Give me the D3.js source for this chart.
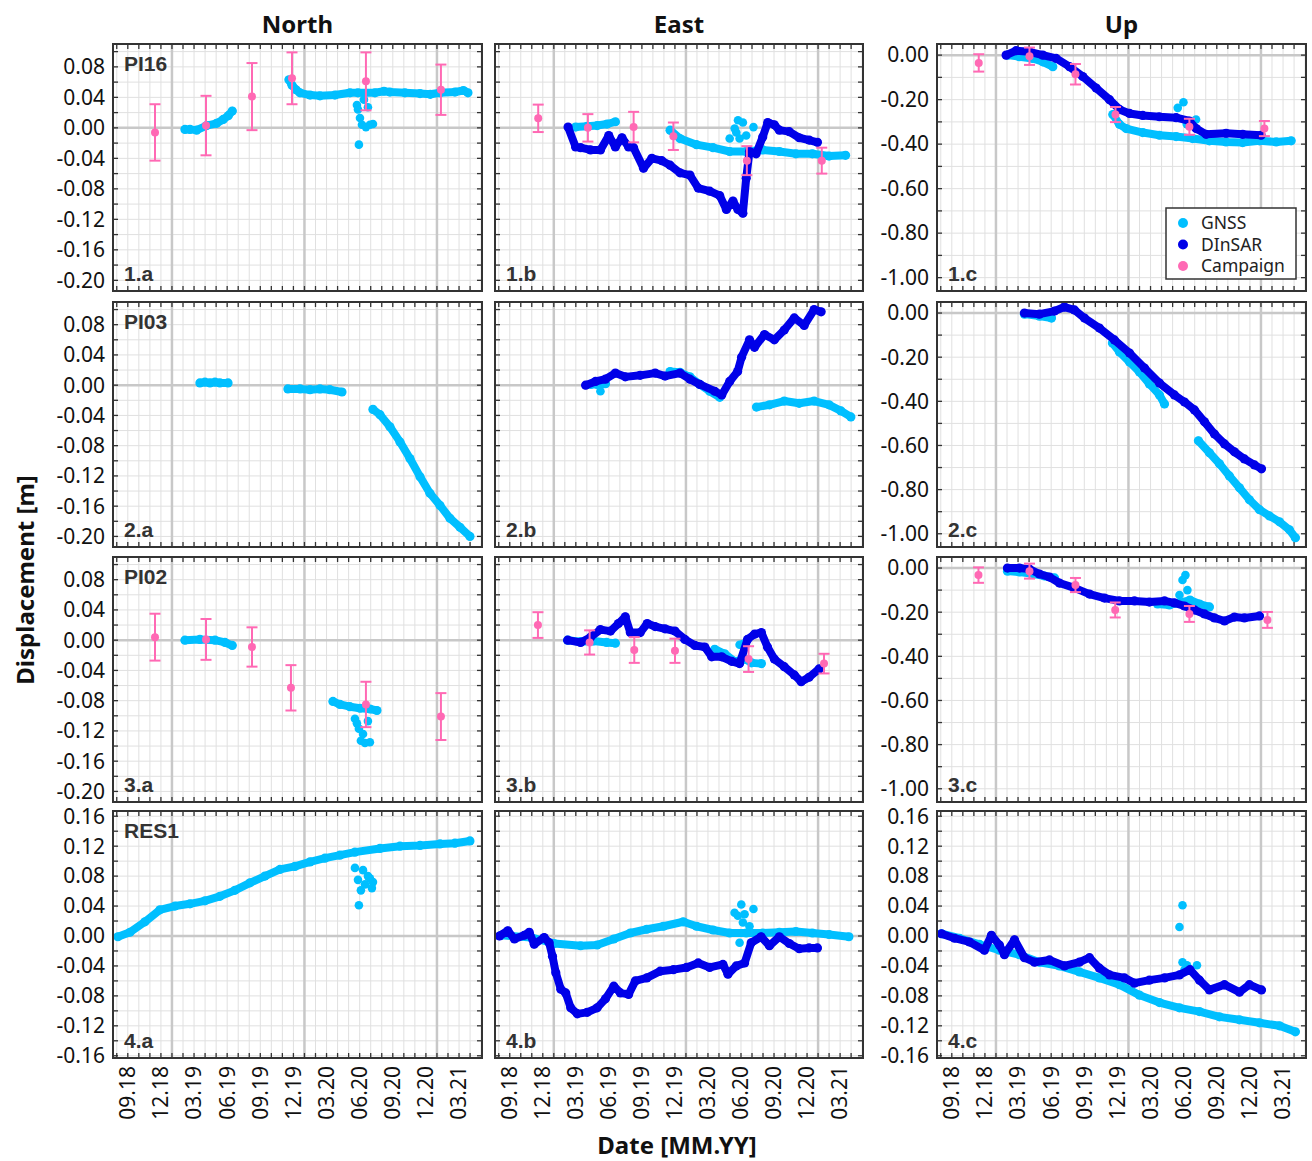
<!DOCTYPE html>
<html><head><meta charset="utf-8">
<script src="https://cdn.jsdelivr.net/npm/d3@7"></script>
<style>body{margin:0;background:#fff} svg{display:block}</style>
</head><body><svg id="c" width="1312" height="1161"></svg>
<script>
// ---------- labels ----------
const columnTitles = ["North", "East", "Up"];
const stations = ["PI16", "PI03", "PI02", "RES1"];
const xTickLabels = ["09.18","12.18","03.19","06.19","09.19","12.19","03.20","06.20","09.20","12.20","03.21"];
const yTicksNE = [0.08,0.04,0.00,-0.04,-0.08,-0.12,-0.16,-0.20];
const yTicksUp = [0.00,-0.20,-0.40,-0.60,-0.80,-1.00];
const yTicksR4 = [0.16,0.12,0.08,0.04,0.00,-0.04,-0.08,-0.12,-0.16];
const legendNames = ["GNSS","DInSAR","Campaign"];

// ---------- data: [decimal year, displacement m] ; campaign: [t, value, error] ----------
// Row 1 : PI16
const gnss1a = [
 [[2019.098,-0.002],[2019.136,-0.002],[2019.186,-0.003],[2019.262,0.003],[2019.337,0.006],[2019.387,0.011],[2019.425,0.016],[2019.455,0.022]],
 [[2019.883,0.063],[2019.906,0.056],[2019.936,0.050],[2019.966,0.046],[2020.042,0.043],[2020.117,0.042],[2020.230,0.043],[2020.343,0.046],[2020.404,0.046],[2020.532,0.046],[2020.600,0.048],[2020.645,0.047],[2020.758,0.046],[2020.872,0.045],[2020.950,0.044],[2021.023,0.046],[2021.136,0.047],[2021.200,0.049],[2021.234,0.046]]
];
const gnss1aOut = [[2020.396,0.030],[2020.404,0.024],[2020.411,-0.022],[2020.419,0.013],[2020.434,0.004],[2020.449,0.037],[2020.464,0.001],[2020.479,0.027],[2020.494,0.004],[2020.517,0.005]];
const camp1a = [[2018.872,-0.006,0.037],[2019.257,0.003,0.039],[2019.604,0.041,0.044],[2019.906,0.065,0.034],[2020.464,0.061,0.038],[2021.030,0.050,0.033]];

const gnss1b = [
 [[2019.165,0.001],[2019.253,0.002],[2019.328,0.003],[2019.403,0.005],[2019.466,0.008]],
 [[2019.880,-0.003],[2019.955,-0.014],[2020.080,-0.022],[2020.205,-0.026],[2020.331,-0.031],[2020.456,-0.031],[2020.581,-0.029],[2020.707,-0.031],[2020.832,-0.034],[2020.957,-0.034],[2021.083,-0.037],[2021.208,-0.036]]
];
const gnss1bOut = [[2020.331,-0.014],[2020.369,-0.001],[2020.381,-0.006],[2020.394,0.010],[2020.406,-0.014],[2020.431,0.007],[2020.456,-0.010],[2020.511,0.001]];
const dinsar1b = [[[2019.108,0.001],[2019.165,-0.025],[2019.203,-0.026],[2019.278,-0.029],[2019.353,-0.029],[2019.416,-0.010],[2019.466,-0.025],[2019.516,-0.013],[2019.566,-0.025],[2019.604,-0.026],[2019.679,-0.053],[2019.742,-0.040],[2019.817,-0.043],[2019.880,-0.049],[2019.955,-0.059],[2020.030,-0.062],[2020.093,-0.079],[2020.180,-0.083],[2020.256,-0.089],[2020.306,-0.107],[2020.356,-0.096],[2020.393,-0.107],[2020.431,-0.112],[2020.456,-0.066],[2020.481,-0.031],[2020.531,-0.034],[2020.581,-0.012],[2020.619,0.007],[2020.669,0.004],[2020.707,-0.003],[2020.782,-0.005],[2020.857,-0.013],[2020.932,-0.016],[2020.995,-0.019]]];
const camp1b = [[2018.882,0.0125,0.018],[2019.258,0.000,0.018],[2019.604,0.001,0.020],[2019.905,-0.011,0.018],[2020.461,-0.043,0.019],[2021.028,-0.043,0.017]];

const gnss1c = [
 [[2019.089,0.000],[2019.177,-0.007],[2019.277,-0.015],[2019.353,-0.030],[2019.429,-0.052]],
 [[2019.882,-0.267],[2019.932,-0.311],[2019.983,-0.330],[2020.108,-0.348],[2020.234,-0.360],[2020.360,-0.366],[2020.485,-0.375],[2020.611,-0.385],[2020.737,-0.390],[2020.862,-0.393],[2020.989,-0.385],[2021.115,-0.390],[2021.228,-0.385]]
];
const gnss1cOut = [[2020.372,-0.237],[2020.415,-0.212],[2020.510,-0.289],[2020.470,-0.300],[2020.440,-0.310]];
const dinsar1c = [[[2019.077,0.000],[2019.152,0.020],[2019.253,0.015],[2019.353,0.000],[2019.454,-0.015],[2019.555,-0.052],[2019.655,-0.096],[2019.756,-0.148],[2019.857,-0.200],[2019.932,-0.244],[2020.008,-0.262],[2020.108,-0.271],[2020.234,-0.277],[2020.360,-0.281],[2020.460,-0.296],[2020.511,-0.330],[2020.586,-0.356],[2020.737,-0.351],[2020.862,-0.356],[2021.001,-0.360]]];
const camp1c = [[2018.870,-0.035,0.039],[2019.253,-0.005,0.039],[2019.600,-0.086,0.046],[2019.902,-0.267,0.034],[2020.460,-0.322,0.036],[2021.026,-0.330,0.034]];

// Row 2 : PI03
const gnss2a = [
 [[2019.211,0.003],[2019.249,0.004],[2019.287,0.003],[2019.325,0.004],[2019.362,0.003],[2019.423,0.003]],
 [[2019.875,-0.005],[2019.966,-0.005],[2020.042,-0.006],[2020.117,-0.005],[2020.192,-0.006],[2020.283,-0.009]],
 [[2020.517,-0.032],[2020.570,-0.039],[2020.645,-0.055],[2020.721,-0.075],[2020.796,-0.097],[2020.872,-0.121],[2020.947,-0.143],[2021.023,-0.159],[2021.098,-0.176],[2021.174,-0.188],[2021.249,-0.200]]
];
const gnss2b = [
 [[2019.278,0.001],[2019.330,0.001],[2019.391,0.002]],
 [[2019.880,0.018],[2019.955,0.017],[2020.030,0.011],[2020.105,0.001],[2020.180,-0.008],[2020.256,-0.016]],
 [[2020.534,-0.029],[2020.632,-0.026],[2020.744,-0.021],[2020.857,-0.024],[2020.970,-0.021],[2021.083,-0.026],[2021.173,-0.034],[2021.248,-0.042]]
];
const gnss2bOut = [[2019.353,-0.008]];
const dinsar2b = [[[2019.241,0.000],[2019.316,0.005],[2019.391,0.008],[2019.466,0.016],[2019.541,0.011],[2019.654,0.013],[2019.767,0.016],[2019.842,0.012],[2019.955,0.016],[2020.030,0.008],[2020.105,0.001],[2020.218,-0.008],[2020.271,-0.013],[2020.331,0.005],[2020.391,0.018],[2020.421,0.037],[2020.481,0.060],[2020.519,0.050],[2020.594,0.067],[2020.669,0.060],[2020.744,0.073],[2020.820,0.089],[2020.895,0.079],[2020.970,0.100],[2021.023,0.097]]];
const gnss2c = [
 [[2019.215,-0.005],[2019.328,-0.014],[2019.419,-0.023]],
 [[2019.879,-0.136],[2019.932,-0.176],[2020.008,-0.222],[2020.083,-0.267],[2020.158,-0.321],[2020.234,-0.371],[2020.272,-0.412]],
 [[2020.528,-0.579],[2020.611,-0.633],[2020.687,-0.683],[2020.762,-0.738],[2020.838,-0.792],[2020.913,-0.846],[2020.989,-0.891],[2021.064,-0.919],[2021.140,-0.946],[2021.215,-0.982],[2021.260,-1.018]]
];
const dinsar2c = [[[2019.215,0.000],[2019.328,-0.005],[2019.442,0.009],[2019.517,0.027],[2019.592,0.014],[2019.668,-0.023],[2019.781,-0.068],[2019.894,-0.122],[2020.008,-0.181],[2020.121,-0.249],[2020.234,-0.317],[2020.347,-0.371],[2020.423,-0.403],[2020.498,-0.439],[2020.574,-0.493],[2020.649,-0.548],[2020.725,-0.593],[2020.800,-0.629],[2020.875,-0.661],[2020.951,-0.688],[2021.004,-0.706]]];

// Row 3 : PI02
const gnss3a = [
 [[2019.098,0.000],[2019.211,0.001],[2019.325,0.000],[2019.400,-0.003],[2019.455,-0.007]],
 [[2020.215,-0.081],[2020.268,-0.085],[2020.343,-0.088],[2020.419,-0.090],[2020.494,-0.091],[2020.547,-0.093]]
];
const gnss3aOut = [[2020.381,-0.104],[2020.396,-0.110],[2020.411,-0.117],[2020.426,-0.133],[2020.442,-0.124],[2020.457,-0.136],[2020.479,-0.107],[2020.494,-0.135]];
const camp3a = [[2018.872,0.004,0.031],[2019.257,0.001,0.027],[2019.604,-0.009,0.026],[2019.898,-0.063,0.030],[2020.464,-0.085,0.030],[2021.030,-0.101,0.031]];
const gnss3b = [
 [[2019.105,0.000],[2019.203,-0.002],[2019.300,-0.001],[2019.400,-0.003],[2019.466,-0.004]],
 [[2020.218,-0.012],[2020.293,-0.018],[2020.368,-0.028],[2020.444,-0.025],[2020.496,-0.030],[2020.571,-0.031]]
];
const gnss3bOut = [[2020.406,-0.006],[2020.430,-0.005],[2020.444,-0.010]];
const dinsar3b = [[[2019.105,0.000],[2019.203,-0.003],[2019.278,0.004],[2019.353,0.014],[2019.429,0.012],[2019.489,0.022],[2019.541,0.031],[2019.579,0.010],[2019.654,0.010],[2019.707,0.022],[2019.767,0.018],[2019.842,0.015],[2019.917,0.012],[2019.992,0.001],[2020.068,-0.007],[2020.143,-0.009],[2020.195,-0.022],[2020.271,-0.022],[2020.346,-0.028],[2020.406,-0.031],[2020.466,0.001],[2020.519,0.008],[2020.571,0.010],[2020.617,-0.009],[2020.669,-0.025],[2020.744,-0.035],[2020.820,-0.046],[2020.872,-0.055],[2020.932,-0.049],[2021.008,-0.038]]];
const camp3b = [[2018.880,0.020,0.017],[2019.271,-0.003,0.016],[2019.609,-0.013,0.017],[2019.917,-0.014,0.016],[2020.474,-0.025,0.017],[2021.045,-0.031,0.013]];
const gnss3c = [
 [[2019.087,-0.014],[2019.177,-0.018],[2019.291,-0.027],[2019.366,-0.036],[2019.442,-0.045]],
 [[2020.219,-0.163],[2020.309,-0.167],[2020.385,-0.158],[2020.464,-0.145],[2020.536,-0.163],[2020.611,-0.176]]
];
const gnss3cOut = [[2020.408,-0.054],[2020.430,-0.032],[2020.445,-0.100],[2020.385,-0.122]];
const dinsar3c = [[[2019.087,0.000],[2019.177,0.000],[2019.253,-0.005],[2019.328,-0.027],[2019.404,-0.041],[2019.479,-0.068],[2019.592,-0.090],[2019.706,-0.118],[2019.819,-0.136],[2019.932,-0.149],[2020.045,-0.149],[2020.158,-0.154],[2020.272,-0.149],[2020.347,-0.158],[2020.423,-0.172],[2020.498,-0.190],[2020.574,-0.208],[2020.649,-0.226],[2020.725,-0.240],[2020.800,-0.222],[2020.875,-0.226],[2020.989,-0.217]]];
const camp3c = [[2018.868,-0.032,0.035],[2019.253,-0.014,0.034],[2019.600,-0.077,0.032],[2019.900,-0.190,0.034],[2020.460,-0.208,0.036],[2021.049,-0.235,0.036]];

// Row 4 : RES1
const gnss4a = [[[2018.592,-0.001],[2018.683,0.005],[2018.796,0.019],[2018.909,0.035],[2019.023,0.040],[2019.136,0.043],[2019.249,0.047],[2019.362,0.053],[2019.475,0.061],[2019.589,0.071],[2019.702,0.080],[2019.815,0.089],[2019.928,0.093],[2020.042,0.099],[2020.155,0.104],[2020.268,0.108],[2020.381,0.112],[2020.570,0.117],[2020.721,0.120],[2020.872,0.121],[2021.023,0.123],[2021.136,0.124],[2021.249,0.127]]];
const gnss4aOut = [[2020.381,0.091],[2020.404,0.075],[2020.411,0.041],[2020.426,0.061],[2020.442,0.088],[2020.457,0.069],[2020.479,0.080],[2020.494,0.077],[2020.509,0.064],[2020.517,0.072]];
const gnss4b = [[[2018.602,0.001],[2018.827,-0.002],[2019.003,-0.010],[2019.203,-0.013],[2019.328,-0.012],[2019.454,-0.004],[2019.579,0.004],[2019.704,0.009],[2019.830,0.013],[2019.980,0.019],[2020.080,0.013],[2020.205,0.008],[2020.331,0.004],[2020.456,0.004],[2020.581,0.004],[2020.707,0.005],[2020.832,0.006],[2020.957,0.004],[2021.083,0.002],[2021.233,-0.001]]];
const gnss4bOut = [[2020.368,0.031],[2020.393,0.027],[2020.419,0.042],[2020.444,0.029],[2020.431,0.018],[2020.481,0.013],[2020.511,0.036],[2020.406,-0.009]];
const dinsar4b = [[[2018.589,0.000],[2018.652,0.007],[2018.702,-0.004],[2018.777,0.001],[2018.814,0.005],[2018.852,-0.011],[2018.927,-0.002],[2018.965,-0.009],[2018.990,-0.027],[2019.015,-0.049],[2019.053,-0.071],[2019.090,-0.076],[2019.128,-0.096],[2019.178,-0.104],[2019.253,-0.102],[2019.328,-0.096],[2019.391,-0.084],[2019.454,-0.067],[2019.504,-0.076],[2019.566,-0.078],[2019.617,-0.060],[2019.704,-0.056],[2019.805,-0.047],[2019.905,-0.045],[2020.005,-0.042],[2020.093,-0.036],[2020.180,-0.042],[2020.280,-0.038],[2020.318,-0.051],[2020.381,-0.040],[2020.444,-0.036],[2020.494,-0.009],[2020.569,-0.001],[2020.632,-0.013],[2020.707,-0.001],[2020.782,-0.010],[2020.857,-0.017],[2020.932,-0.016],[2020.995,-0.016]]];
const gnss4c = [[[2018.589,0.003],[2018.725,-0.003],[2018.875,-0.011],[2019.026,-0.019],[2019.177,-0.025],[2019.328,-0.035],[2019.479,-0.040],[2019.630,-0.048],[2019.781,-0.056],[2019.932,-0.065],[2020.083,-0.079],[2020.234,-0.089],[2020.385,-0.096],[2020.536,-0.101],[2020.687,-0.108],[2020.838,-0.112],[2020.989,-0.116],[2021.140,-0.120],[2021.260,-0.128]]];
const gnss4cOut = [[2020.408,0.041],[2020.385,0.012],[2020.408,-0.035],[2020.442,-0.039],[2020.517,-0.039],[2020.423,-0.045]];
const dinsar4c = [[[2018.589,0.003],[2018.687,-0.003],[2018.800,-0.008],[2018.913,-0.019],[2018.966,0.001],[2019.026,-0.012],[2019.064,-0.025],[2019.140,-0.005],[2019.215,-0.029],[2019.291,-0.035],[2019.404,-0.032],[2019.517,-0.040],[2019.630,-0.035],[2019.706,-0.029],[2019.781,-0.043],[2019.857,-0.052],[2019.970,-0.056],[2020.045,-0.063],[2020.158,-0.059],[2020.272,-0.056],[2020.385,-0.052],[2020.464,-0.045],[2020.536,-0.059],[2020.611,-0.072],[2020.725,-0.065],[2020.838,-0.075],[2020.913,-0.065],[2021.004,-0.072]]];

// ---------- layout ----------
const COL = {gnss:"#00bfff", dinsar:"#0000e8", camp:"#ff69b4"};
const colX = [{l:113,r:482},{l:495,r:863},{l:937,r:1306}];
const rowY = [{t:44,b:291},{t:302,b:547},{t:557,b:802},{t:811,b:1058}];
const xDomain = [2018.555, 2021.34];
const yDomNE = [-0.214, 0.110], yDomUp = [-1.06, 0.05], yDomR4 = [-0.163, 0.167];

const panels = [
 {r:0,c:0,g:gnss1a,go:gnss1aOut,cp:camp1a},
 {r:0,c:1,g:gnss1b,go:gnss1bOut,d:dinsar1b,cp:camp1b},
 {r:0,c:2,g:gnss1c,go:gnss1cOut,d:dinsar1c,cp:camp1c,legend:true},
 {r:1,c:0,g:gnss2a},
 {r:1,c:1,g:gnss2b,go:gnss2bOut,d:dinsar2b},
 {r:1,c:2,g:gnss2c,d:dinsar2c},
 {r:2,c:0,g:gnss3a,go:gnss3aOut,cp:camp3a},
 {r:2,c:1,g:gnss3b,go:gnss3bOut,d:dinsar3b,cp:camp3b},
 {r:2,c:2,g:gnss3c,go:gnss3cOut,d:dinsar3c,cp:camp3c},
 {r:3,c:0,g:gnss4a,go:gnss4aOut},
 {r:3,c:1,g:gnss4b,go:gnss4bOut,d:dinsar4b},
 {r:3,c:2,g:gnss4c,go:gnss4cOut,d:dinsar4c}
];
const letters = ["a","b","c"];

const svg = d3.select("#c");
const FONT = "'Noto Sans', 'Open Sans', sans-serif";
const months = d3.range(0, 34).map(i => 2018 + 7/12 + i/12);
const labelT = s => 2000 + (+s.slice(3)) + ((+s.slice(0,2)) - 1)/12;
const fmt = v => (Math.abs(v) < 1e-9 ? 0 : v).toFixed(2);

panels.forEach((p, idx) => {
  const cx = colX[p.c], ry = rowY[p.r];
  const x = d3.scaleLinear().domain(xDomain).range([cx.l, cx.r]);
  let yDom, ticks, minor;
  if (p.r === 3) { yDom = yDomR4; ticks = yTicksR4; minor = d3.range(-8, 9).map(i => i*0.02); }
  else if (p.c === 2) { yDom = yDomUp; ticks = yTicksUp; minor = d3.range(-10, 1).map(i => i*0.1); }
  else { yDom = yDomNE; ticks = yTicksNE; minor = d3.range(-10, 6).map(i => i*0.02); }
  const y = d3.scaleLinear().domain(yDom).range([ry.b, ry.t]);
  const g = svg.append("g");
  const clipId = "clip" + idx;
  svg.append("clipPath").attr("id", clipId).append("rect")
    .attr("x", cx.l).attr("y", ry.t).attr("width", cx.r - cx.l).attr("height", ry.b - ry.t);

  // grid
  const grid = g.append("g").attr("clip-path", `url(#${clipId})`);
  grid.selectAll(".vm").data(months).join("line")
    .attr("x1", d => x(d)).attr("x2", d => x(d)).attr("y1", ry.t).attr("y2", ry.b)
    .attr("stroke", "#e0e0e0").attr("stroke-width", 1);
  grid.selectAll(".hm").data(minor).join("line")
    .attr("x1", cx.l).attr("x2", cx.r).attr("y1", d => y(d)).attr("y2", d => y(d))
    .attr("stroke", "#e0e0e0").attr("stroke-width", 1);
  grid.selectAll(".vM").data([2019, 2020, 2021]).join("line")
    .attr("x1", d => x(d)).attr("x2", d => x(d)).attr("y1", ry.t).attr("y2", ry.b)
    .attr("stroke", "#c8c8c8").attr("stroke-width", 2.5);
  grid.append("line").attr("x1", cx.l).attr("x2", cx.r).attr("y1", y(0)).attr("y2", y(0))
    .attr("stroke", "#c8c8c8").attr("stroke-width", 2.5);

  // ticks (inward)
  const tk = g.append("g").attr("stroke", "#333").attr("stroke-width", 1.3);
  months.forEach(m => {
    if (x(m) <= cx.l + 1 || x(m) >= cx.r - 1) return;
    tk.append("line").attr("x1", x(m)).attr("x2", x(m)).attr("y1", ry.b).attr("y2", ry.b - 5);
    tk.append("line").attr("x1", x(m)).attr("x2", x(m)).attr("y1", ry.t).attr("y2", ry.t + 5);
  });
  minor.forEach(v => {
    tk.append("line").attr("x1", cx.l).attr("x2", cx.l + 5).attr("y1", y(v)).attr("y2", y(v));
    tk.append("line").attr("x1", cx.r).attr("x2", cx.r - 5).attr("y1", y(v)).attr("y2", y(v));
  });

  // data
  const dg = g.append("g").attr("clip-path", `url(#${clipId})`);
  const line = d3.line().x(d => x(d[0])).y(d => y(d[1]));
  const drawSeries = (segs, color, cls) => {
    if (!segs) return;
    dg.selectAll("path." + cls).data(segs).join("path").attr("class", cls)
      .attr("d", line).attr("fill", "none").attr("stroke", color)
      .attr("stroke-width", 8).attr("stroke-linejoin", "round").attr("stroke-linecap", "round");
    dg.selectAll("circle." + cls).data(segs.flat()).join("circle").attr("class", cls)
      .attr("cx", d => x(d[0])).attr("cy", d => y(d[1])).attr("r", 4.6).attr("fill", color);
  };
  drawSeries(p.g, COL.gnss, "gn");
  if (p.go) dg.selectAll("circle.go").data(p.go).join("circle").attr("class", "go")
    .attr("cx", d => x(d[0])).attr("cy", d => y(d[1])).attr("r", 4.3).attr("fill", COL.gnss);
  drawSeries(p.d, COL.dinsar, "ds");
  if (p.cp) {
    const cg = dg.append("g").attr("stroke", COL.camp).attr("stroke-width", 2);
    p.cp.forEach(d => {
      const xx = x(d[0]);
      cg.append("line").attr("x1", xx).attr("x2", xx).attr("y1", y(d[1] + d[2])).attr("y2", y(d[1] - d[2]));
      cg.append("line").attr("x1", xx - 5.5).attr("x2", xx + 5.5).attr("y1", y(d[1] + d[2])).attr("y2", y(d[1] + d[2]));
      cg.append("line").attr("x1", xx - 5.5).attr("x2", xx + 5.5).attr("y1", y(d[1] - d[2])).attr("y2", y(d[1] - d[2]));
    });
    dg.selectAll("circle.cp").data(p.cp).join("circle").attr("class", "cp")
      .attr("cx", d => x(d[0])).attr("cy", d => y(d[1])).attr("r", 4).attr("fill", COL.camp);
  }

  // frame
  g.append("rect").attr("x", cx.l).attr("y", ry.t).attr("width", cx.r - cx.l).attr("height", ry.b - ry.t)
    .attr("fill", "none").attr("stroke", "#333").attr("stroke-width", 2);

  // y tick labels
  if (p.c !== 1) {
    g.selectAll("text.yl").data(ticks).join("text").attr("class", "yl")
      .attr("x", cx.l - 8).attr("y", d => y(d)).attr("dy", "0.35em")
      .attr("text-anchor", "end").attr("font-family", FONT).attr("font-size", 21).attr("fill", "#111")
      .text(fmt);
  }
  // x tick labels (bottom row)
  if (p.r === 3) {
    g.selectAll("text.xl").data(xTickLabels).join("text").attr("class", "xl")
      .attr("transform", d => `translate(${x(labelT(d))},${ry.b + 8}) rotate(-90)`)
      .attr("dy", "0.35em").attr("text-anchor", "end")
      .attr("font-family", FONT).attr("font-size", 21).attr("fill", "#111").text(d => d);
  }
  // panel labels
  const lab = g.append("g").attr("font-family", "'Liberation Sans', Arial, sans-serif")
    .attr("font-weight", "bold").attr("font-size", 21).attr("fill", "#333");
  if (p.c === 0) lab.append("text").attr("x", cx.l + 11).attr("y", ry.t + 27).text(stations[p.r]);
  lab.append("text").attr("x", cx.l + 11).attr("y", ry.b - 10).text(`${p.r + 1}.${letters[p.c]}`);

  // legend
  if (p.legend) {
    const lg = g.append("g");
    lg.append("rect").attr("x", 1166).attr("y", 208).attr("width", 130).attr("height", 71)
      .attr("fill", "#fff").attr("stroke", "#333").attr("stroke-width", 1.5);
    const lc = [COL.gnss, COL.dinsar, COL.camp];
    legendNames.forEach((n, i) => {
      const yy = 223 + i * 21.5;
      lg.append("circle").attr("cx", 1183).attr("cy", yy).attr("r", 5).attr("fill", lc[i]);
      lg.append("text").attr("x", 1201).attr("y", yy).attr("dy", "0.35em")
        .attr("font-family", FONT).attr("font-size", 17.5).attr("fill", "#222").text(n);
    });
  }
});

// column titles and axis titles
svg.selectAll("text.ct").data(columnTitles).join("text").attr("class", "ct")
  .attr("x", (d, i) => (colX[i].l + colX[i].r) / 2).attr("y", 33)
  .attr("text-anchor", "middle").attr("font-family", FONT).attr("font-weight", "bold")
  .attr("font-size", 24).attr("fill", "#111").text(d => d);
svg.append("text").attr("transform", "translate(34,580) rotate(-90)")
  .attr("text-anchor", "middle").attr("font-family", FONT).attr("font-weight", "bold")
  .attr("font-size", 24).attr("fill", "#111").text("Displacement [m]");
svg.append("text").attr("x", 677).attr("y", 1154)
  .attr("text-anchor", "middle").attr("font-family", FONT).attr("font-weight", "bold")
  .attr("font-size", 24).attr("fill", "#111").text("Date [MM.YY]");
</script></body></html>
